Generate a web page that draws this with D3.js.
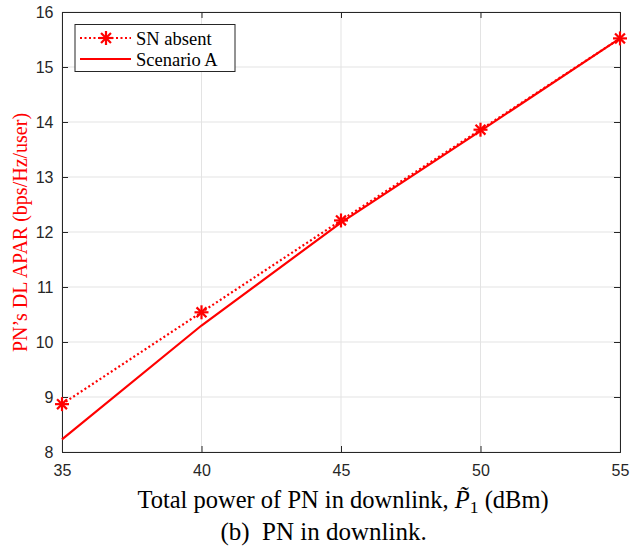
<!DOCTYPE html>
<html>
<head>
<meta charset="utf-8">
<script src="https://cdn.jsdelivr.net/npm/d3@7"></script>
<style>
  html, body { margin: 0; padding: 0; background: #fff; }
  svg { display: block; }
</style>
</head>
<body>
<svg id="chart" width="634" height="558"></svg>
<script>
// Total PN transmit power (dBm)
const powerDbm = [35, 40, 45, 50, 55];
// Average per-user rate, bps/Hz/user
const snAbsent = [8.87, 10.54, 12.21, 13.86, 15.52];
const scenarioA = [8.23, 10.30, 12.17, 13.84, 15.52];
const xTicks = [35, 40, 45, 50, 55];
const yTicks = [8, 9, 10, 11, 12, 13, 14, 15, 16];

const svg = d3.select("#chart");
const m = { left: 62, right: 620, top: 12, bottom: 452 };
const axisColor = "#262626";
const red = "#ff0000";

const x = d3.scaleLinear().domain([35, 55]).range([m.left, m.right]);
const y = d3.scaleLinear().domain([8, 16]).range([m.bottom, m.top]);

// grid
const grid = svg.append("g");
grid.selectAll("line.gx").data(xTicks).join("line")
  .attr("x1", d => x(d)).attr("x2", d => x(d))
  .attr("y1", m.top).attr("y2", m.bottom)
  .attr("stroke", "#e3e3e3").attr("stroke-width", 1);
grid.selectAll("line.gy").data(yTicks).join("line")
  .attr("x1", m.left).attr("x2", m.right)
  .attr("y1", d => y(d)).attr("y2", d => y(d))
  .attr("stroke", "#e3e3e3").attr("stroke-width", 1);

// axes (inward ticks on all sides)
const tickLen = 6;
const fontTick = "'Liberation Sans', Arial, sans-serif";
const xAxis = d3.axisBottom(x).tickValues(xTicks).tickSize(-tickLen).tickPadding(13).tickFormat(d3.format("d"));
const yAxis = d3.axisLeft(y).tickValues(yTicks).tickSize(-tickLen).tickPadding(8.5).tickFormat(d3.format("d"));
const xTop = d3.axisTop(x).tickValues(xTicks).tickSize(-tickLen).tickFormat("");
const yRight = d3.axisRight(y).tickValues(yTicks).tickSize(-tickLen).tickFormat("");

function styleAxis(g) {
  g.selectAll("path.domain").attr("stroke", axisColor).attr("stroke-width", 1);
  g.selectAll(".tick line").attr("stroke", axisColor).attr("stroke-width", 1);
  g.selectAll(".tick text").attr("fill", axisColor)
    .style("font-family", fontTick).style("font-size", "16px");
}
svg.append("g").attr("transform", `translate(0,${m.bottom})`).call(xAxis).call(styleAxis);
svg.append("g").attr("transform", `translate(${m.left},0)`).call(yAxis).call(styleAxis);
svg.append("g").attr("transform", `translate(0,${m.top})`).call(xTop).call(styleAxis);
svg.append("g").attr("transform", `translate(${m.right},0)`).call(yRight).call(styleAxis);

// series
const line = d3.line().x((d, i) => x(powerDbm[i])).y(d => y(d));
svg.append("path").datum(scenarioA).attr("d", line)
  .attr("fill", "none").attr("stroke", red).attr("stroke-width", 2.2);
svg.append("path").datum(snAbsent).attr("d", line)
  .attr("fill", "none").attr("stroke", red).attr("stroke-width", 2.2)
  .attr("stroke-dasharray", "2,2.5");

// asterisk marker
function star(g, cx, cy, r) {
  const s = g.append("g").attr("transform", `translate(${cx},${cy})`);
  [0, 45, 90, 135].forEach(a => {
    const rad = a * Math.PI / 180;
    s.append("line")
      .attr("x1", -r * Math.cos(rad)).attr("y1", -r * Math.sin(rad))
      .attr("x2", r * Math.cos(rad)).attr("y2", r * Math.sin(rad))
      .attr("stroke", red).attr("stroke-width", 2.2);
  });
}
const markers = svg.append("g");
snAbsent.forEach((v, i) => star(markers, x(powerDbm[i]), y(v), 7));

// legend
const leg = svg.append("g");
leg.append("rect").attr("x", 75).attr("y", 24.5).attr("width", 160).attr("height", 47)
  .attr("fill", "#fff").attr("stroke", axisColor).attr("stroke-width", 1);
leg.append("line").attr("x1", 80).attr("x2", 131).attr("y1", 38).attr("y2", 38)
  .attr("stroke", red).attr("stroke-width", 2.2).attr("stroke-dasharray", "2,2.5");
star(leg, 106, 38, 7);
leg.append("line").attr("x1", 80).attr("x2", 131).attr("y1", 59).attr("y2", 59)
  .attr("stroke", red).attr("stroke-width", 2.2);
const legFont = "'Liberation Serif', 'Times New Roman', serif";
leg.append("text").attr("x", 136).attr("y", 44.5).text("SN absent")
  .style("font-family", legFont).style("font-size", "18.5px").attr("fill", "#000");
leg.append("text").attr("x", 136).attr("y", 65.5).text("Scenario A")
  .style("font-family", legFont).style("font-size", "18.5px").attr("fill", "#000");

// axis titles
const xl = svg.append("text").attr("x", 343).attr("y", 508).attr("text-anchor", "middle")
  .style("font-family", legFont).style("font-size", "24.5px").attr("fill", "#000");
xl.append("tspan").text("Total power of PN in downlink, ");
xl.append("tspan").style("font-style", "italic").text("P\u0303");
xl.append("tspan").attr("dy", 5).style("font-size", "17.5px").text("1");
xl.append("tspan").attr("dy", -5).text(" (dBm)");

svg.append("text")
  .attr("transform", `translate(27,232.5) rotate(-90)`)
  .attr("text-anchor", "middle")
  .style("font-family", legFont).style("font-size", "20px").attr("fill", red)
  .text("PN\u2019s DL APAR (bps/Hz/user)");

// caption
svg.append("text").attr("x", 323.5).attr("y", 540).attr("text-anchor", "middle")
  .style("font-family", legFont).style("font-size", "25px").attr("fill", "#000")
  .text("(b)\u2002PN in downlink.");
</script>
</body>
</html>
